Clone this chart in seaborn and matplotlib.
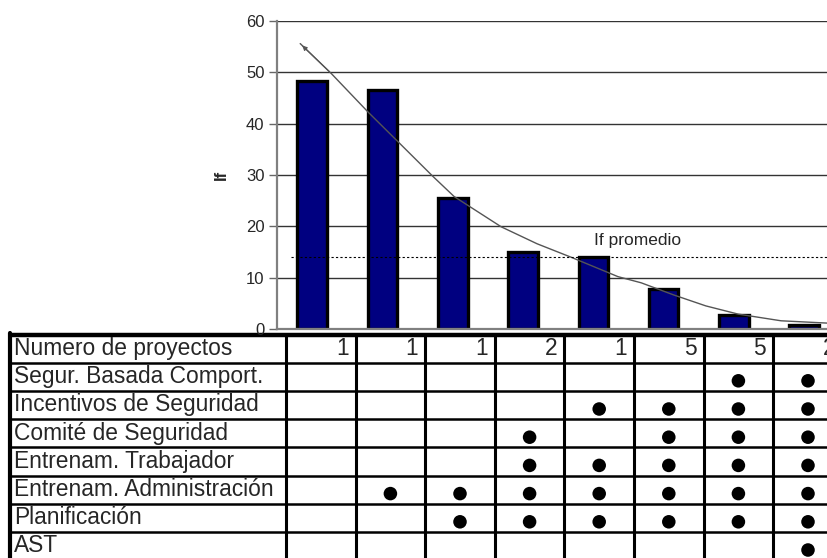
import numpy as np
import pandas as pd
import seaborn as sns
import matplotlib.pyplot as plt

# bar values (If) per group of projects
grupos = ["G1", "G2", "G3", "G4", "G5", "G6", "G7", "G8"]
if_valores = [48.3, 46.6, 25.5, 15.0, 14.0, 7.7, 2.7, 0.8]
if_promedio = 14.0

# trend curve (x in category units)
tend_x = [-0.17, 0.27, 0.80, 1.22, 1.72, 2.02, 2.69, 3.20, 3.68, 4.35, 4.68, 5.15, 5.60, 6.06, 6.67, 7.40]
tend_y = [55.6, 49.8, 42.2, 36.5, 29.7, 25.8, 19.9, 16.6, 14.0, 10.2, 9.0, 6.6, 4.5, 2.9, 1.6, 1.1]

# table below the chart
num_proyectos = [1, 1, 1, 2, 1, 5, 5, 2]
filas = ["Segur. Basada Comport.", "Incentivos de Seguridad", "Comité de Seguridad",
         "Entrenam. Trabajador", "Entrenam. Administración", "Planificación", "AST"]
marcas = [
    [0, 0, 0, 0, 0, 0, 1, 1],
    [0, 0, 0, 0, 1, 1, 1, 1],
    [0, 0, 0, 1, 0, 1, 1, 1],
    [0, 0, 0, 1, 1, 1, 1, 1],
    [0, 1, 1, 1, 1, 1, 1, 1],
    [0, 0, 1, 1, 1, 1, 1, 1],
    [0, 0, 0, 0, 0, 0, 0, 1],
]

sns.set_style("white")
plt.rcParams['font.family'] = ['Liberation Sans', 'DejaVu Sans']

W, H = 828, 558
fig = plt.figure(figsize=(W / 100, H / 100), dpi=100)

# ---- chart ----
ax = fig.add_axes([277 / W, 1 - 329 / H, 562.4 / W, 308 / H])
df = pd.DataFrame({"grupo": grupos, "If": if_valores})
sns.barplot(data=df, x="grupo", y="If", order=grupos, color="#000080",
            saturation=1, edgecolor="black", linewidth=2.4, width=0.42, ax=ax)
sns.lineplot(x=tend_x, y=tend_y, sort=False, color="#555555", linewidth=1, ax=ax)
ax.annotate("", xy=(tend_x[0], tend_y[0]), xytext=(tend_x[1], tend_y[1]),
            arrowprops=dict(arrowstyle="-|>", color="#555555", lw=0.8, mutation_scale=7))
ax.axhline(if_promedio, xmin=0.025, xmax=1, color="black", lw=0.8, ls=(0, (2, 2)))
ax.text(4.01, if_promedio + 3.3, "If promedio", fontsize=12.5, va="center", ha="left")

ax.set_xlim(-0.5, 7.5)
ax.set_ylim(0, 60)
ax.set_yticks(range(0, 61, 10))
ax.yaxis.grid(True, color="#333333", lw=1)
ax.set_axisbelow(True)
ax.set_xticks([])
ax.set_xlabel("")
ax.set_ylabel("If", fontsize=12, fontweight="bold", labelpad=12)
ax.tick_params(axis="y", length=6, width=1, color="#666666", labelsize=12, pad=3, left=True)
for s in ["top", "right"]:
    ax.spines[s].set_visible(False)
for s in ["left", "bottom"]:
    ax.spines[s].set_color("#808080")
    ax.spines[s].set_linewidth(1.6)

# ---- table ----
tab = fig.add_axes([0, 0, 1, 1], zorder=-1)

x0, x_lab, col_w = 10, 286, 69.6
y0, row_h = 334.5, 28.2
n_rows = len(filas) + 1
bordes_x = [x_lab + i * col_w for i in range(len(grupos) + 1)]
bordes_y = [y0 + i * row_h for i in range(n_rows + 1)]

for i, y in enumerate(bordes_y):
    tab.plot([x0, W + 20], [y, y], color="black", lw=3.2 if i == 0 else 1.8,
             solid_capstyle="butt")
tab.plot([x0, x0], [y0 - 2, H + 5], color="black", lw=3)
for x in bordes_x:
    tab.plot([x, x], [y0 + 1, H + 5], color="black", lw=2.2)

fs = 16.4
tab.text(x0 + 4, y0 + row_h / 2, "Numero de proyectos", fontsize=fs, va="center")
for j, n in enumerate(num_proyectos):
    tab.text(bordes_x[j + 1] - 7, y0 + row_h / 2, str(n), fontsize=fs, va="center", ha="right")
for i, nombre in enumerate(filas):
    tab.text(x0 + 4, y0 + (i + 1.5) * row_h, nombre, fontsize=fs, va="center")

pts = pd.DataFrame([
    {"x": x_lab + (j + 0.5) * col_w, "y": y0 + (i + 1.5) * row_h + 4}
    for i, fila in enumerate(marcas) for j, v in enumerate(fila) if v
])
sns.scatterplot(data=pts, x="x", y="y", color="black", s=95, edgecolor="none", ax=tab)
tab.set_xlim(0, W)
tab.set_ylim(H, 0)
tab.axis("off")

fig.savefig("out.png", dpi=100)
